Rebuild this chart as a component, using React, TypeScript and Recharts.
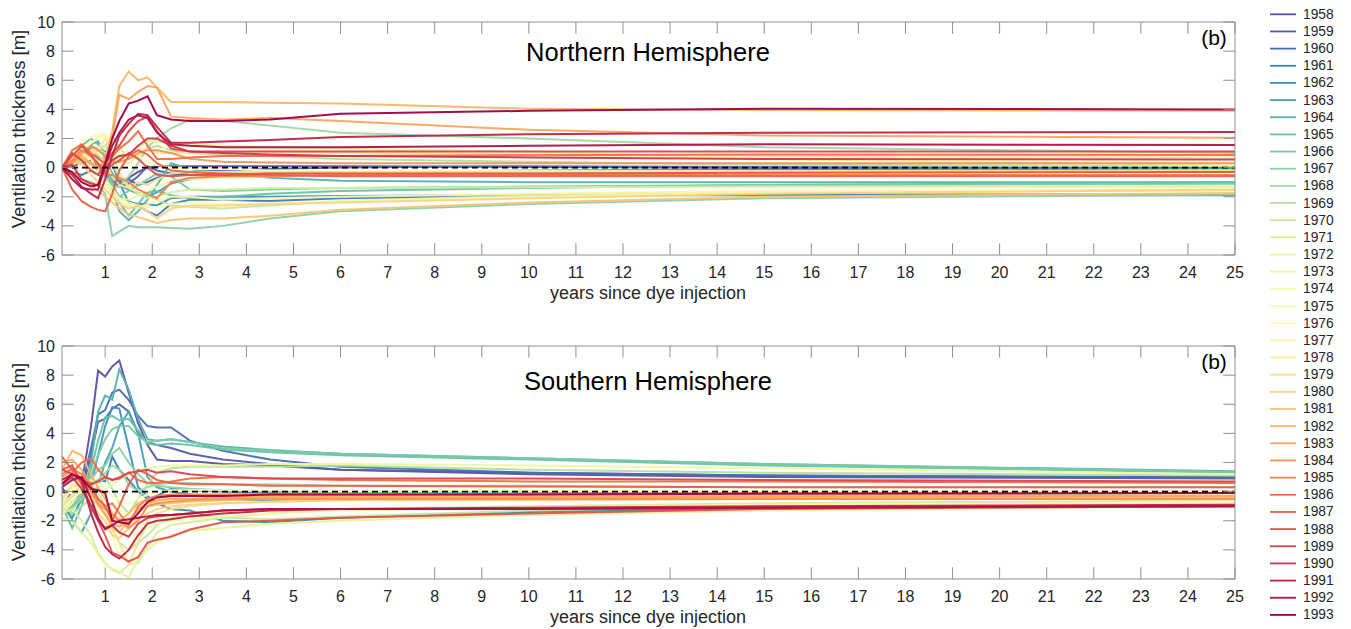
import React from 'react';
import { LineChart, Line, XAxis, YAxis, ReferenceLine } from 'recharts';

// sample positions along the x axis (years since dye injection)
const X = [0.083, 0.3, 0.5, 0.7, 0.85, 1.0, 1.15, 1.3, 1.5, 1.7, 1.9, 2.1, 2.4, 2.8, 3.5, 4.5, 6, 10, 15, 25];

const YEARS = [1958, 1959, 1960, 1961, 1962, 1963, 1964, 1965, 1966, 1967, 1968, 1969, 1970, 1971, 1972, 1973, 1974, 1975,
  1976, 1977, 1978, 1979, 1980, 1981, 1982, 1983, 1984, 1985, 1986, 1987, 1988, 1989, 1990, 1991, 1992, 1993];

const X_TICKS = [1, 2, 3, 4, 5, 6, 7, 8, 9, 10, 11, 12, 13, 14, 15, 16, 17, 18, 19, 20, 21, 22, 23, 24, 25];
const Y_TICKS = [-6, -4, -2, 0, 2, 4, 6, 8, 10];

// Northern Hemisphere, one row per year (1958 ... 1993)
const NH: number[][] = [
  [0, 0.2, 0.5, 0.9, 0.7, 0.2, -0.6, -1.1, -0.7, -0.3, 0.0, 0.1, 0.1, 0.1, 0.1, 0.1, 0.1, 0.05, 0.0, 0.0],
  [0, 0.1, 0.3, 0.5, 0.1, -0.4, -0.9, -1.3, -1.1, -0.6, 0.1, -0.2, -0.4, -0.5, -0.4, -0.3, -0.3, -0.2, -0.1, -0.05],
  [0, -0.3, -0.5, -0.2, -0.5, -0.9, -1.0, -0.9, -0.8, -1.2, -1.0, -0.7, -0.5, -0.3, -0.2, -0.1, 0.0, 0.1, 0.05, -0.06],
  [0, 0.2, 0.6, 0.3, -0.2, -0.6, -1.4, -2.0, -2.3, -2.6, -3.0, -3.3, -2.5, -2.2, -2.2, -2.3, -2.1, -1.9, -1.85, -1.85],
  [0, 0.3, 1.0, 1.4, 1.3, 1.1, 0.2, -1.0, -2.4, -2.5, -2.5, -2.6, -2.1, -2.0, -2.0, -2.0, -1.95, -1.9, -1.9, -1.9],
  [0, 0.6, 1.5, 1.2, 0.8, 0.5, -0.4, -1.2, -1.5, -1.8, -2.0, -1.7, -1.1, -0.8, -0.6, -0.4, -0.3, -0.2, -0.15, -0.1],
  [0, 0.3, 1.0, 1.6, 1.8, 0.6, -1.4, -3.0, -3.6, -3.0, -2.2, -1.2, 0.3, -0.1, -0.4, -0.7, -0.9, -1.0, -1.0, -1.0],
  [0, 0.5, 1.5, 2.0, 1.6, 1.0, -0.8, -2.4, -3.3, -2.5, -1.7, -1.6, -1.9, -2.1, -2.0, -1.8, -1.6, -1.4, -1.2, -1.0],
  [0, 0.4, 0.8, 1.2, 0.8, 0.3, -1.2, -2.0, -1.6, -1.2, -0.8, -0.4, -0.6, -1.5, -1.6, -1.5, -1.4, -1.3, -1.2, -1.1],
  [0, -0.4, -0.8, -1.0, -1.2, -1.8, -4.7, -4.4, -4.0, -4.1, -4.1, -4.1, -4.15, -4.2, -4.0, -3.5, -3.0, -2.5, -2.1, -1.85],
  [0, 0.2, 0.5, 0.4, 0.0, -0.6, -1.4, -1.3, -0.6, 0.3, 1.4, 2.0, 2.7, 3.3, 3.2, 2.9, 2.4, 2.0, 1.4, 1.0],
  [0, 0.3, 0.6, 0.9, 1.2, 1.5, 2.2, 1.4, 0.6, 0.8, 1.3, 1.5, 1.2, 1.0, 0.9, 0.8, 0.6, 0.4, 0.2, 0.1],
  [0, 0.6, 1.2, 1.5, 1.3, 1.0, 0.2, -0.6, -1.4, -1.7, -1.9, -2.2, -2.6, -2.7, -2.8, -2.6, -2.3, -1.9, -1.7, -1.55],
  [0, 0.2, 0.5, 1.0, 1.3, 1.5, 0.8, -0.3, -1.3, -1.8, -2.1, -2.0, -1.7, -1.5, -1.5, -1.4, -1.4, -1.35, -1.3, -1.3],
  [0, 0.4, 1.0, 1.7, 2.1, 2.3, 1.2, 0.6, 0.8, 1.4, 1.8, 1.8, 1.7, 1.6, 1.5, 1.4, 1.3, 1.1, 0.6, 0.15],
  [0, -0.4, -0.8, -1.3, -1.0, -0.8, -1.4, -2.1, -2.2, -1.9, -1.6, -1.3, -0.9, -0.8, -0.7, -0.6, -0.5, -0.4, -0.3, -0.2],
  [0, 0.5, 1.0, 0.2, -0.6, -1.2, -1.7, -2.1, -2.4, -2.6, -2.7, -2.7, -2.5, -2.4, -2.5, -2.5, -2.3, -2.0, -1.7, -1.45],
  [0, 0.6, 1.2, 1.7, 2.0, 2.2, 1.7, 1.3, 1.1, 0.8, 0.4, 0.2, 0.0, -0.1, -0.1, -0.2, -0.2, -0.2, -0.25, -0.28],
  [0, 0.8, 1.8, 2.1, 2.3, 2.4, 1.6, 0.9, 1.0, 1.3, 1.2, 1.2, 1.5, 1.5, 1.4, 1.3, 1.1, 0.9, 0.6, 0.4],
  [0, 0.3, 1.0, 0.6, -0.2, -1.0, -1.8, -2.3, -2.6, -2.8, -2.5, -2.3, -2.0, -2.0, -2.2, -2.1, -2.0, -1.8, -1.6, -1.5],
  [0, -0.5, 0.5, 0.9, 1.3, 2.0, 1.0, 0.4, 0.3, 0.8, 1.3, 1.0, 1.0, 1.0, 1.05, 1.1, 1.0, 0.9, 0.8, 0.7],
  [0, 0.2, 0.8, 1.2, 0.9, 0.4, -0.6, -1.2, -1.4, -1.0, -1.2, -0.8, -0.4, -0.3, -0.3, -0.3, -0.3, -0.3, -0.25, -0.2],
  [0, 0.5, 0.3, -0.5, -1.0, -1.5, -2.0, -2.5, -2.8, -2.6, -3.0, -3.5, -2.8, -2.6, -2.6, -2.5, -2.4, -2.1, -1.8, -1.5],
  [0, -0.3, -0.8, -1.2, -1.6, -2.0, -2.4, -2.8, -3.2, -3.4, -3.6, -3.8, -3.6, -3.5, -3.5, -3.3, -2.9, -2.4, -2.0, -1.75],
  [0, 0.3, 0.6, 0.2, 0.0, 0.6, 2.5, 5.6, 6.6, 6.0, 6.2, 5.5, 4.5, 4.5, 4.5, 4.45, 4.4, 4.05, 3.95, 3.9],
  [0, 0.4, 0.8, 0.3, 0.1, 0.3, 2.0, 5.0, 4.7, 5.2, 5.6, 5.5, 3.5, 3.4, 3.3, 3.4, 3.2, 2.6, 2.2, 2.05],
  [0, 0.3, 1.0, 1.5, 1.2, 0.8, 0.4, 0.4, 0.6, 1.0, 1.2, 1.2, 1.0, 0.6, 0.4, 0.35, 0.3, 0.3, 0.3, 0.3],
  [0, 0.5, 1.2, 0.8, 0.2, -0.5, -0.5, -0.7, -1.0, -1.5, -1.8, -2.1, -1.0, -0.7, -0.6, -0.6, -0.5, -0.5, -0.5, -0.5],
  [0, 1.2, 1.6, 1.0, 0.6, 0.3, 0.8, 1.3, 1.8, 2.5, 1.5, 0.6, 0.6, 0.7, 0.8, 0.8, 0.8, 0.85, 0.9, 0.86],
  [0, -1.5, -2.3, -2.7, -2.9, -3.0, -1.8, -0.2, 0.8, 1.2, 0.9, 0.3, -0.2, -0.3, -0.4, -0.5, -0.6, -0.6, -0.6, -0.6],
  [0, 0.8, 1.5, 0.8, 0.3, -0.3, 0.2, 0.5, 1.0, 0.6, 0.0, -0.5, -0.6, -0.5, -0.5, -0.4, -0.4, -0.4, -0.35, -0.3],
  [0, 1.0, 0.5, -0.2, -0.5, 0.3, 1.0, 1.5, 2.5, 3.2, 3.5, 2.5, 1.3, 1.1, 1.1, 1.1, 1.1, 1.1, 1.1, 1.1],
  [0, 0.2, -0.8, -1.1, -1.2, 0.0, 0.5, 0.8, 0.9, 1.5, 2.0, 2.0, 1.5, 1.1, 1.0, 0.9, 0.8, 0.7, 0.6, 0.55],
  [0, -0.5, -1.3, -1.8, -2.1, -0.8, 0.8, 2.2, 3.0, 3.7, 3.6, 2.8, 1.7, 1.7, 1.8, 1.9, 2.1, 2.3, 2.4, 2.45],
  [0, -0.8, -1.4, -1.5, -1.5, 0.2, 1.5, 2.4, 3.3, 3.6, 3.4, 2.4, 1.6, 1.5, 1.4, 1.4, 1.4, 1.5, 1.6, 1.55],
  [0, -0.3, -1.0, -1.3, -1.2, 0.3, 2.0, 3.2, 4.4, 4.6, 4.9, 3.6, 3.3, 3.2, 3.2, 3.3, 3.7, 3.9, 4.05, 4.0],
];

// Southern Hemisphere, one row per year (1958 ... 1993)
const SH: number[][] = [
  [0.0, -0.3, 0.5, 4.5, 8.3, 7.9, 8.6, 9.0, 6.8, 4.7, 3.2, 2.2, 2.1, 2.1, 1.9, 1.8, 1.5, 1.2, 1.0, 0.9],
  [0.3, -0.8, 0.0, 2.5, 4.8, 5.0, 5.7, 6.0, 5.5, 4.0, 3.4, 3.2, 3.0, 2.6, 2.2, 1.9, 1.5, 1.3, 1.1, 1.0],
  [0.2, -0.5, 0.2, 3.0, 5.3, 5.6, 6.8, 7.0, 6.3, 5.2, 4.5, 4.4, 4.4, 3.5, 2.8, 2.2, 1.7, 1.3, 1.1, 0.95],
  [-1.5, -1.0, -0.5, 0.5, 0.8, 0.7, 2.4, 1.5, 0.8, 0.0, -0.5, -0.3, 0.2, 0.1, 0.0, -0.1, -0.1, -0.05, 0.0, 0.0],
  [-1.0, -1.8, -0.5, 0.5, 2.5, 4.5, 5.8, 5.7, 3.0, 0.3, -0.3, -0.8, -1.2, -1.3, -2.0, -2.1, -1.8, -1.4, -1.1, -0.9],
  [-0.3, -2.0, -2.8, -1.5, 0.5, 2.0, 3.0, 4.5, 5.5, 4.0, 1.0, 0.3, 0.0, -0.2, -0.5, -0.6, -0.5, -0.4, -0.3, -0.2],
  [-0.5, -1.5, -1.0, 2.0, 5.5, 6.6, 6.3, 8.4, 7.0, 5.0, 3.6, 3.5, 3.6, 3.4, 3.1, 2.85, 2.6, 2.3, 1.9, 1.4],
  [-1.0, -2.5, -1.0, 1.5, 3.5, 5.1, 5.2, 4.9, 5.0, 4.2, 3.3, 3.2, 3.3, 3.2, 2.9, 2.7, 2.5, 2.2, 1.8, 1.3],
  [-0.5, -1.0, -0.3, 1.0, 2.5, 3.6, 4.3, 4.5, 4.5, 3.8, 3.4, 3.5, 3.6, 3.4, 3.0, 2.8, 2.6, 2.3, 1.9, 1.35],
  [-0.3, -0.8, -0.2, 0.8, 1.5, 1.8, 2.6, 3.0, 2.0, 1.2, 0.6, 0.4, 0.3, 0.2, 0.1, 0.0, -0.1, -0.1, -0.1, -0.1],
  [-0.5, -1.2, -0.5, 0.2, 0.8, 1.3, 1.8, 1.5, 0.5, 0.0, 0.3, 0.5, 0.6, 0.6, 0.5, 0.5, 0.4, 0.4, 0.3, 0.3],
  [-0.8, -1.5, -1.0, -0.5, 0.5, 1.0, 0.2, -0.8, -1.5, -0.5, 0.5, 1.3, 1.6, 1.7, 1.7, 1.7, 1.8, 1.5, 1.3, 1.1],
  [-1.0, -0.3, 0.5, 0.3, 0.0, -1.0, -2.5, -3.5, -4.0, -3.5, -3.0, -2.3, -1.8, -1.6, -1.8, -1.9, -1.7, -1.3, -1.0, -0.8],
  [-1.5, -1.2, -2.0, -3.0, -4.2, -4.9, -5.4, -5.6, -5.0, -4.9, -3.8, -2.8, -2.3, -2.1, -1.8, -1.5, -1.2, -1.0, -0.8, -0.6],
  [-1.8, -2.0, -2.8, -3.5, -4.3, -5.0, -5.3, -5.5, -5.9, -4.6, -4.0, -3.5, -3.0, -2.7, -2.5, -2.2, -2.0, -1.6, -1.3, -1.0],
  [-1.5, -0.5, 0.5, 0.8, 0.5, 0.2, 0.4, 0.8, 1.2, 1.5, 1.6, 1.7, 1.8, 1.8, 1.8, 1.9, 1.9, 1.8, 1.6, 1.2],
  [-0.5, 0.3, 0.8, 0.5, 0.0, -0.5, -1.0, -1.3, -1.5, -1.2, -0.9, -0.7, -0.6, -0.5, -0.4, -0.3, -0.3, -0.2, -0.2, -0.2],
  [-1.2, -0.5, 0.0, 0.3, 0.5, 0.2, -0.3, -0.6, -0.8, -0.5, -0.2, 0.0, 0.1, 0.1, 0.1, 0.1, 0.1, 0.05, 0.05, 0.0],
  [-0.8, 0.2, 0.5, 0.0, -0.5, -1.0, -3.0, -4.5, -4.0, -2.5, -2.0, -1.8, -1.7, -1.5, -1.4, -1.3, -1.2, -1.1, -1.0, -0.9],
  [-1.5, -0.8, 0.3, -0.2, -1.0, -1.6, -1.8, -2.2, -2.6, -3.0, -2.5, -2.2, -2.0, -1.9, -1.7, -1.5, -1.3, -1.1, -0.9, -0.8],
  [-1.0, -0.2, 0.5, 0.0, -0.5, -1.0, -1.5, -1.8, -2.5, -2.0, -1.0, -0.6, -0.4, -0.3, -0.2, -0.2, -0.2, -0.2, -0.15, -0.1],
  [-0.5, 0.5, 0.3, -0.3, -0.8, -1.5, -2.6, -3.5, -5.0, -3.5, -2.0, -1.5, -1.2, -1.0, -0.8, -0.7, -0.6, -0.5, -0.5, -0.4],
  [0.6, 1.2, 0.5, -0.5, -1.5, -2.0, -3.0, -3.2, -2.5, -1.8, -1.5, -1.2, -1.0, -0.9, -0.8, -0.7, -0.6, -0.6, -0.5, -0.5],
  [0.8, 1.0, 0.6, 0.0, -1.0, -1.5, -2.5, -2.8, -2.0, -1.3, -1.0, -0.9, -0.8, -0.7, -0.6, -0.5, -0.5, -0.5, -0.4, -0.4],
  [1.5, 2.8, 2.5, 1.2, 0.3, -0.5, -1.5, -2.0, -1.5, -0.8, -0.5, -0.4, -0.3, -0.3, -0.3, -0.3, -0.3, -0.3, -0.3, -0.3],
  [2.0, 2.2, 1.5, 0.5, -0.8, -1.6, -2.2, -2.4, -2.0, -1.2, -0.8, -0.6, -0.5, -0.5, -0.4, -0.4, -0.4, -0.4, -0.35, -0.3],
  [1.0, 1.5, 0.8, 0.0, -0.8, -1.2, -1.6, -2.0, -2.5, -2.0, -1.0, -0.8, -0.7, -0.6, -0.5, -0.5, -0.5, -0.5, -0.5, -0.5],
  [1.2, 1.6, 1.2, 0.4, -0.5, -1.0, -0.8, -1.5, -2.3, -1.0, -0.5, -0.3, -0.2, -0.2, -0.2, -0.2, -0.2, -0.15, -0.1, -0.1],
  [0.5, 1.3, 2.0, 2.3, 1.5, 1.0, 0.8, 1.0, 1.3, 0.8, 0.6, 0.6, 0.7, 0.9, 1.0, 0.9, 0.8, 0.7, 0.7, 0.6],
  [2.4, 1.5, 0.9, 0.3, -0.5, -1.0, -2.0, -1.0, 0.5, 1.5, 1.2, 0.8, 0.6, 0.5, 0.5, 0.4, 0.4, 0.35, 0.3, 0.3],
  [1.5, 1.8, 0.5, -1.0, -2.0, -3.0, -4.2, -4.4, -4.8, -4.5, -3.5, -3.3, -3.1, -2.6, -2.1, -2.0, -1.8, -1.5, -1.2, -1.0],
  [1.5, 1.2, 0.8, 0.5, 0.7, 1.0, 0.8, 0.9, 1.3, 1.4, 1.5, 1.3, 1.4, 1.2, 1.0, 0.9, 0.9, 0.9, 0.8, 0.7],
  [0.5, 1.0, 0.2, -1.0, -2.0, -2.5, -2.3, -2.8, -3.1, -2.2, -1.8, -1.7, -1.6, -1.5, -1.3, -1.2, -1.2, -1.2, -1.1, -1.0],
  [0.8, 1.2, 0.8, -1.5, -2.8, -3.8, -4.3, -4.6, -4.0, -3.0, -2.2, -2.0, -1.9, -1.7, -1.5, -1.3, -1.2, -1.1, -1.0, -0.9],
  [0.3, 0.8, 1.0, -0.5, -1.8, -2.6, -2.3, -2.0, -1.9, -1.8, -1.7, -1.6, -1.6, -1.5, -1.3, -1.2, -1.2, -1.2, -1.1, -1.0],
  [0.5, 1.2, 0.9, 0.2, 0.1, -0.1, -2.0, -2.1, -2.2, -1.5, -0.7, -0.4, -0.3, -0.3, -0.3, -0.2, -0.2, -0.2, -0.15, -0.1],
];

// ---- styling ----
const SPECTRAL = ['#5e4fa2', '#3288bd', '#66c2a5', '#abdda4', '#e6f598', '#ffffbf', '#fee08b', '#fdae61', '#f46d43', '#d53e4f', '#9e0142'];
function hexToRgb(h: string) {
  return [parseInt(h.slice(1, 3), 16), parseInt(h.slice(3, 5), 16), parseInt(h.slice(5, 7), 16)];
}
function colorAt(i: number, n: number) {
  const t = (i / (n - 1)) * (SPECTRAL.length - 1);
  const k = Math.min(Math.floor(t), SPECTRAL.length - 2);
  const f = t - k;
  const a = hexToRgb(SPECTRAL[k]);
  const b = hexToRgb(SPECTRAL[k + 1]);
  const c = a.map((v, j) => Math.round(v + (b[j] - v) * f));
  return `rgb(${c[0]},${c[1]},${c[2]})`;
}
const COLORS = YEARS.map((_, i) => colorAt(i, YEARS.length));

const FONT = '"Liberation Sans", Arial, Helvetica, sans-serif';
const AX = '#8f8f8f';
const TXT = '#262626';
const TL = 11.7;

function buildRows(values: number[][]) {
  return X.map((x, i) => {
    const row: Record<string, number> = { x };
    YEARS.forEach((y, j) => {
      row['y' + y] = values[j][i];
    });
    return row;
  });
}

const BottomTick = (p: any) => (
  <g>
    <line x1={p.x} y1={p.y} x2={p.x} y2={p.y - TL} stroke={AX} strokeWidth={1} />
    <text x={p.x} y={p.y + 17} textAnchor="middle" dominantBaseline="central" fontSize={16} fill={TXT} fontFamily={FONT}>
      {p.payload.value}
    </text>
  </g>
);
const TopTick = (p: any) => (
  <line x1={p.x} y1={p.y} x2={p.x} y2={p.y + TL} stroke={AX} strokeWidth={1} />
);
const LeftTick = (p: any) => (
  <g>
    <line x1={p.x} y1={p.y} x2={p.x + TL} y2={p.y} stroke={AX} strokeWidth={1} />
    <text x={p.x - 7} y={p.y} textAnchor="end" dominantBaseline="central" fontSize={16} fill={TXT} fontFamily={FONT}>
      {p.payload.value}
    </text>
  </g>
);
const RightTick = (p: any) => (
  <line x1={p.x} y1={p.y} x2={p.x - TL} y2={p.y} stroke={AX} strokeWidth={1} />
);

function Panel({ values, top }: { values: number[][]; top: number }) {
  const rows = buildRows(values);
  return (
    <div style={{ position: 'absolute', left: 0, top }}>
      <LineChart width={1262} height={300} data={rows} margin={{ top: 0, right: 0, bottom: 0, left: 0 }}>
        <XAxis xAxisId="b" dataKey="x" type="number" domain={[0.083, 25]} allowDataOverflow ticks={X_TICKS} interval={0}
          height={45} tickSize={0} tickMargin={0} tickLine={false} axisLine={{ stroke: AX }} tick={BottomTick} />
        <XAxis xAxisId="t" orientation="top" dataKey="x" type="number" domain={[0.083, 25]} allowDataOverflow ticks={X_TICKS}
          interval={0} height={22} tickSize={0} tickMargin={0} tickLine={false} axisLine={{ stroke: AX }} tick={TopTick} />
        <YAxis yAxisId="l" type="number" domain={[-6, 10]} allowDataOverflow ticks={Y_TICKS} interval={0} width={62}
          tickSize={0} tickMargin={0} tickLine={false} axisLine={{ stroke: AX }} tick={LeftTick} />
        <YAxis yAxisId="r" orientation="right" type="number" domain={[-6, 10]} allowDataOverflow ticks={Y_TICKS} interval={0}
          width={27} tickSize={0} tickMargin={0} tickLine={false} axisLine={{ stroke: AX }} tick={RightTick} />
        {YEARS.map((y, j) => (
          <Line key={y} xAxisId="b" yAxisId="l" type="linear" dataKey={'y' + y} stroke={COLORS[j]} strokeWidth={2}
            strokeOpacity={0.95} dot={false} activeDot={false} isAnimationActive={false} />
        ))}
        <ReferenceLine xAxisId="b" yAxisId="l" y={0} stroke="#000" strokeWidth={1.6} strokeDasharray="6 4" />
      </LineChart>
    </div>
  );
}

export default function App() {
  return (
    <div style={{ position: 'absolute', left: 0, top: 0, width: 1351, height: 629, background: '#fff', fontFamily: FONT }}>
      <Panel values={NH} top={0} />
      <Panel values={SH} top={324} />
      <svg width={1351} height={629} style={{ position: 'absolute', left: 0, top: 0, pointerEvents: 'none' }} fontFamily={FONT}>
        <text x={648} y={52} textAnchor="middle" dominantBaseline="central" fontSize={25.5} fill="#000">Northern Hemisphere</text>
        <text x={648} y={381} textAnchor="middle" dominantBaseline="central" fontSize={25.5} fill="#000">Southern Hemisphere</text>
        <text x={1214} y={37} textAnchor="middle" dominantBaseline="central" fontSize={21} fill="#000">(b)</text>
        <text x={1214} y={361} textAnchor="middle" dominantBaseline="central" fontSize={21} fill="#000">(b)</text>
        <text x={648} y={293} textAnchor="middle" dominantBaseline="central" fontSize={18} fill={TXT}>years since dye injection</text>
        <text x={648} y={617} textAnchor="middle" dominantBaseline="central" fontSize={18} fill={TXT}>years since dye injection</text>
        <text transform="translate(18,129) rotate(-90)" textAnchor="middle" dominantBaseline="central" fontSize={18.5} fill={TXT}>Ventilation thickness [m]</text>
        <text transform="translate(18,462) rotate(-90)" textAnchor="middle" dominantBaseline="central" fontSize={18.5} fill={TXT}>Ventilation thickness [m]</text>
        {YEARS.map((y, j) => {
          const cy = 14.3 + j * 17.16;
          return (
            <g key={y}>
              <line x1={1270} y1={cy} x2={1296} y2={cy} stroke={COLORS[j]} strokeWidth={1.8} />
              <text x={1303} y={cy} dominantBaseline="central" fontSize={13.8} fill={TXT}>{y}</text>
            </g>
          );
        })}
      </svg>
    </div>
  );
}
